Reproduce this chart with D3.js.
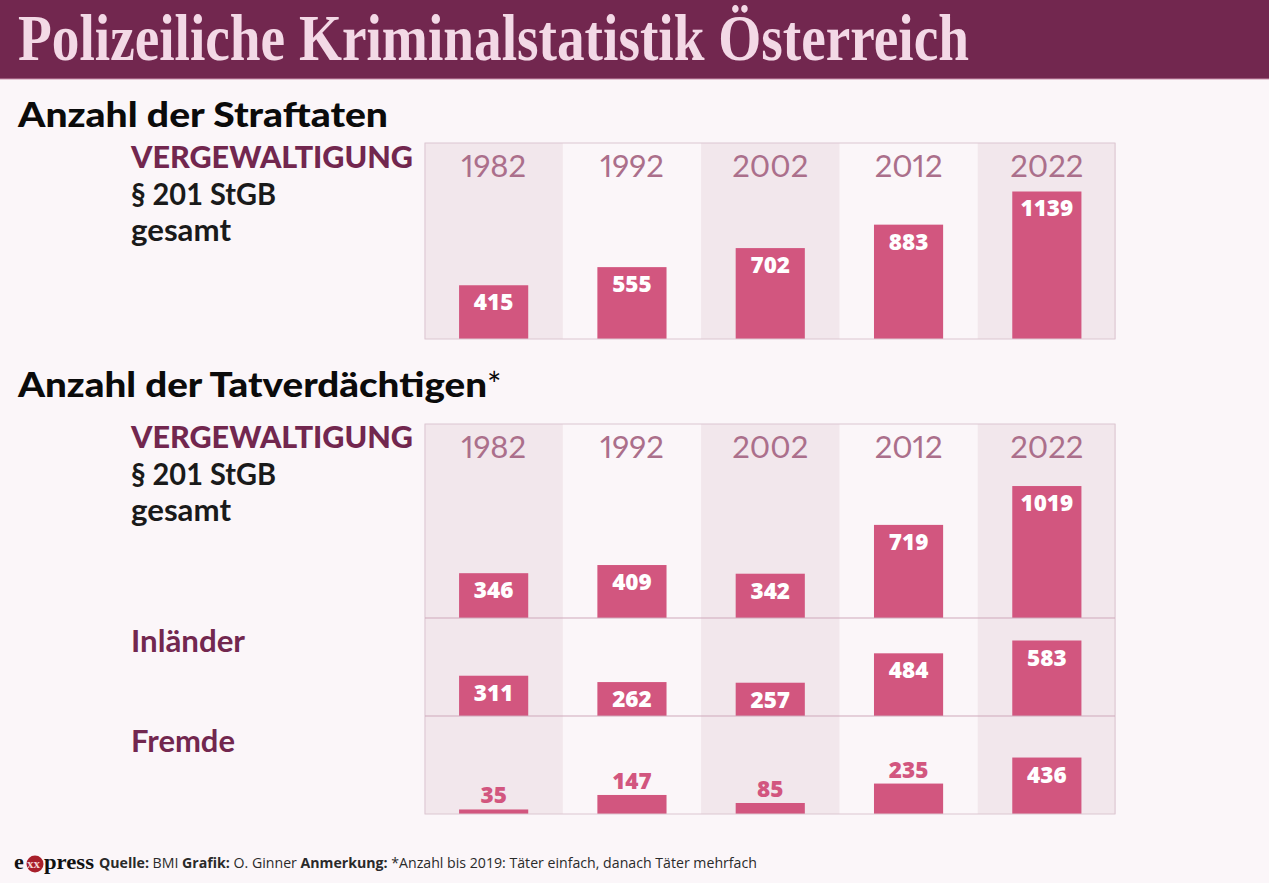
<!DOCTYPE html>
<html><head><meta charset="utf-8">
<script src="https://cdn.jsdelivr.net/npm/d3@7"></script>
<style>html,body{margin:0;padding:0;background:#fbf6f9}svg{display:block}</style></head>
<body><svg id="c" width="1269" height="883"></svg>
<script>
const years = ["1982","1992","2002","2012","2022"];
const straftaten = [415,555,702,883,1139];
const verdaechtige = [346,409,342,719,1019];
const inlaender = [311,262,257,484,583];
const fremde = [35,147,85,235,436];
const outsideLabels = [35,147,85,235];

const SANS = "Lato, 'Noto Sans', sans-serif";
const PLUM = "#72274f", PINK = "#d2567f", LINE = "#dcc6d1", YEAR = "#ab6f8b";
const svg = d3.select("#c");
const x = d3.scaleBand().domain(years).range([424.5,1116]);
const PXPER = 0.1295;

svg.append("rect").attr("width",1269).attr("height",883).attr("fill","#fbf6f9");
svg.append("rect").attr("width",1269).attr("height",79).attr("fill",PLUM);
svg.append("line").attr("x1",0).attr("x2",1269).attr("y1",79).attr("y2",79).attr("stroke","#c98fab").attr("stroke-width",1);
svg.append("text").attr("x",18).attr("y",60).text("Polizeiliche Kriminalstatistik Österreich")
  .attr("textLength",951).attr("lengthAdjust","spacingAndGlyphs")
  .attr("font-family","'Liberation Serif', serif").attr("font-weight",700).attr("font-size",65).attr("fill","#f3d9e6");

function txt(s,px,py,size,weight,fill,anchor){
  return svg.append("text").attr("x",px).attr("y",py).text(s)
   .attr("font-family",SANS).attr("font-size",size).attr("font-weight",weight)
   .attr("fill",fill).attr("text-anchor",anchor||"start");
}
txt("Anzahl der Straftaten",18,127,35,900,"#0b0b0b").attr("textLength",370).attr("lengthAdjust","spacingAndGlyphs");
txt("Anzahl der Tatverdächtigen",18,397,35,900,"#0b0b0b").attr("textLength",469).attr("lengthAdjust","spacingAndGlyphs");
txt("*",487,397,34,400,"#0b0b0b");

function stripes(top,bottom){
  svg.append("g").selectAll("rect").data(years.filter((d,i)=>i%2===0)).join("rect")
    .attr("x",d=>x(d)).attr("width",x.bandwidth())
    .attr("y",top).attr("height",bottom-top).attr("fill","#f2e7ec");
}
function bars(values,top,bottom){
  const y = d3.scaleLinear().domain([0,(bottom-top)/PXPER]).range([bottom,top]);
  const bw = x.bandwidth()/2;
  const g = svg.append("g");
  g.selectAll("rect").data(values).join("rect")
    .attr("x",(d,i)=>x(years[i])+bw/2).attr("width",bw)
    .attr("y",d=>y(d)).attr("height",d=>y(0)-y(d)).attr("fill",PINK);
  g.selectAll("text").data(values).join("text")
    .attr("x",(d,i)=>x(years[i])+bw)
    .attr("y",d=>outsideLabels.includes(d)?y(d)-6:y(d)+25)
    .attr("text-anchor","middle").attr("font-family","'Open Sans', sans-serif").attr("font-weight",800).attr("font-size",22.5)
    .attr("fill",d=>outsideLabels.includes(d)?PINK:"#fff").text(d=>d);
}
function yearsRow(top){
  svg.append("g").selectAll("text").data(years).join("text")
    .attr("x",d=>x(d)+x.bandwidth()/2).attr("y",top+34).attr("text-anchor","middle")
    .attr("font-family",SANS).attr("font-size",31).attr("fill",YEAR)
    .style("font-feature-settings","'pnum' 1").style("font-variant-numeric","proportional-nums").text(d=>d);
}
function frame(top,bottom){
  svg.append("rect").attr("x",425).attr("y",top).attr("width",690).attr("height",bottom-top)
    .attr("fill","none").attr("stroke",LINE).attr("stroke-width",1);
}
function hline(py){ svg.append("line").attr("x1",425).attr("x2",1115).attr("y1",py).attr("y2",py).attr("stroke","#cfa9bb").attr("stroke-width",1); }

stripes(143,339); bars(straftaten,143,339); yearsRow(143); frame(143,339);
stripes(424,814);
bars(verdaechtige,424,618); bars(inlaender,618,716); bars(fremde,716,814);
yearsRow(424); frame(424,814); hline(618); hline(716);

[[168,205,241],[448,485,521]].forEach(r=>{
  txt("VERGEWALTIGUNG",131,r[0],30,900,PLUM).attr("textLength",282).attr("lengthAdjust","spacingAndGlyphs");
  txt("§ 201 StGB",131,r[1],30,700,"#1a1a1a").attr("textLength",145).attr("lengthAdjust","spacingAndGlyphs");
  txt("gesamt",131,r[2],30,700,"#1a1a1a").attr("textLength",100).attr("lengthAdjust","spacingAndGlyphs");
});
txt("Inländer",131,652,30,700,PLUM).attr("textLength",114).attr("lengthAdjust","spacingAndGlyphs");
txt("Fremde",131,752,30,700,PLUM).attr("textLength",104).attr("lengthAdjust","spacingAndGlyphs");

// logo
const LOGO="'Liberation Serif', serif";
svg.append("circle").attr("cx",35).attr("cy",864).attr("r",8.5).attr("fill","#a81f2b");
txt("e",14,869,22,700,"#111").attr("font-family",LOGO);
txt("xx",27,868,13,700,"#f4d6d6").attr("font-family",LOGO);
txt("press",44,869,22,700,"#111").attr("font-family",LOGO).attr("textLength",50).attr("lengthAdjust","spacingAndGlyphs");

const foot = svg.append("text").attr("x",99).attr("y",868).attr("font-family","'Open Sans', sans-serif").attr("font-size",14.15).attr("fill","#2a2a2a");
[["Quelle: ",700],["BMI ",400],["Grafik: ",700],["O. Ginner ",400],["Anmerkung: ",700],["*Anzahl bis 2019: Täter einfach, danach Täter mehrfach",400]]
 .forEach(p=>foot.append("tspan").attr("font-weight",p[1]).text(p[0]));
</script></body></html>
